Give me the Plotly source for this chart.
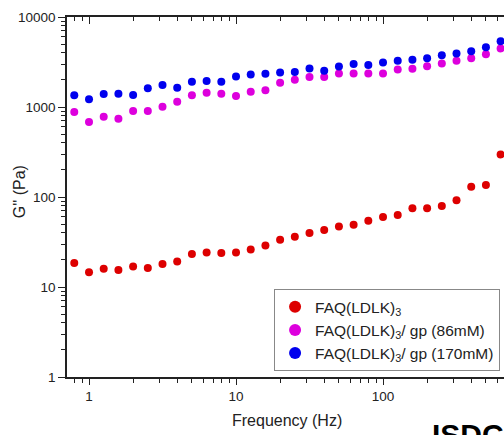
import plotly.graph_objects as go

freq = [0.794, 1.0, 1.259, 1.585, 1.995, 2.512, 3.162, 3.981, 5.012, 6.310,
        7.943, 10.0, 12.59, 15.85, 19.95, 25.12, 31.62, 39.81, 50.12, 63.10,
        79.43, 100.0, 125.9, 158.5, 199.5, 251.2, 316.2, 398.1, 501.2, 631.0]

g_faq = [18.5, 14.6, 15.9, 15.4, 16.9, 16.3, 18.0, 19.2, 23.2, 24.2,
         23.9, 24.2, 26.1, 29.0, 33.4, 36.1, 39.7, 42.9, 47.1, 49.1,
         54.5, 59.9, 63.0, 74.8, 74.8, 79.4, 91.9, 130, 136, 296]

g_gp86 = [881, 683, 781, 742, 903, 903, 1007, 1145, 1349, 1440,
          1403, 1324, 1477, 1531, 1858, 2006, 2149, 2149, 2361, 2361,
          2361, 2361, 2616, 2656, 2845, 3049, 3258, 3491, 3866, 4467]

g_gp170 = [1349, 1217, 1393, 1403, 1358, 1611, 1753, 1637, 1905, 1940,
           1905, 2188, 2303, 2339, 2423, 2442, 2685, 2525, 2825, 2995,
           2920, 3126, 3258, 3341, 3491, 3767, 3935, 4170, 4616, 5383]

names = ["FAQ(LDLK)<sub>3</sub>",
         "FAQ(LDLK)<sub>3</sub>/ gp (86mM)",
         "FAQ(LDLK)<sub>3</sub>/ gp (170mM)"]
colors = ["#dd0000", "#dd00dd", "#0000ee"]

x_ticks = [1, 10, 100]
x_tick_text = ["1", "10", "100"]
y_ticks = [1, 10, 100, 1000, 10000]
y_tick_text = ["1", "10", "100", "1000", "10000"]

fig = go.Figure()
for ys, nm, c in zip([g_faq, g_gp86, g_gp170], names, colors):
    fig.add_trace(go.Scatter(x=freq, y=ys, mode="markers", name=nm,
                             marker=dict(color=c, size=8, line=dict(width=0)),
                             cliponaxis=False))

# invisible trace to activate top axis
fig.add_trace(go.Scatter(x=[1], y=[1], xaxis="x2", mode="markers",
                         marker=dict(opacity=0), showlegend=False, hoverinfo="skip"))

XR = [-0.1497, 2.823]
axcol = "#222222"
fig.update_layout(
    width=504, height=435,
    margin=dict(l=67, r=0, t=17, b=58),
    paper_bgcolor="white", plot_bgcolor="white",
    font=dict(family="Liberation Sans, Arial, sans-serif", size=13, color="#222222"),
    showlegend=True,
    xaxis=dict(type="log", range=XR, showgrid=False, zeroline=False,
               showline=True, linecolor=axcol, linewidth=1.5,
               tickvals=x_ticks, ticktext=x_tick_text,
               ticks="outside", ticklen=6, tickwidth=1.2, tickcolor=axcol,
               minor=dict(ticks="outside", ticklen=4, tickwidth=1.2, tickcolor=axcol,
                          dtick="D1", showgrid=False),
               tickfont=dict(size=13.5)),
    xaxis2=dict(type="log", range=XR, overlaying="x", side="top",
                showgrid=False, zeroline=False, showline=True, linecolor=axcol,
                linewidth=1.5, tickvals=x_ticks, showticklabels=False,
                ticks="inside", ticklen=7, tickwidth=1.2, tickcolor=axcol,
                minor=dict(ticks="inside", ticklen=4, tickwidth=1.2, tickcolor=axcol,
                           dtick="D1", showgrid=False)),
    yaxis=dict(type="log", range=[0, 4], showgrid=False, zeroline=False,
               showline=True, linecolor=axcol, linewidth=1.5,
               tickvals=y_ticks, ticktext=y_tick_text,
               ticks="outside", ticklen=7, tickwidth=1.2, tickcolor=axcol,
               minor=dict(ticks="outside", ticklen=4, tickwidth=1.2, tickcolor=axcol,
                          dtick="D1", showgrid=False),
               tickfont=dict(size=13.5)),
    legend=dict(x=0.991, xanchor="right", y=0.016, yanchor="bottom",
                bordercolor="#888888", borderwidth=1, bgcolor="white",
                font=dict(size=15.5, color="#222222"),
                itemsizing="constant"),
    annotations=[
        dict(text="Frequency (Hz)", xref="paper", yref="paper",
             x=(287 - 67) / 437, y=-(420 - 376.7) / 360,
             xanchor="center", yanchor="middle", showarrow=False,
             font=dict(size=16)),
        dict(text="G'' (Pa)", xref="paper", yref="paper",
             x=-(67 - 19) / 437, y=(376.7 - 192) / 360,
             xanchor="center", yanchor="middle", showarrow=False,
             textangle=-90, font=dict(size=16)),
        dict(text="<b>ISDC</b>", xref="paper", yref="paper",
             x=(430 - 67) / 437, y=-(416 - 376.7) / 360,
             xanchor="left", yanchor="top", showarrow=False,
             font=dict(size=30, color="black")),
    ],
)

fig.write_html("out.html",
               config={"displayModeBar": False},
               post_script="document.body.style.margin='0';document.body.style.overflow='hidden';")
